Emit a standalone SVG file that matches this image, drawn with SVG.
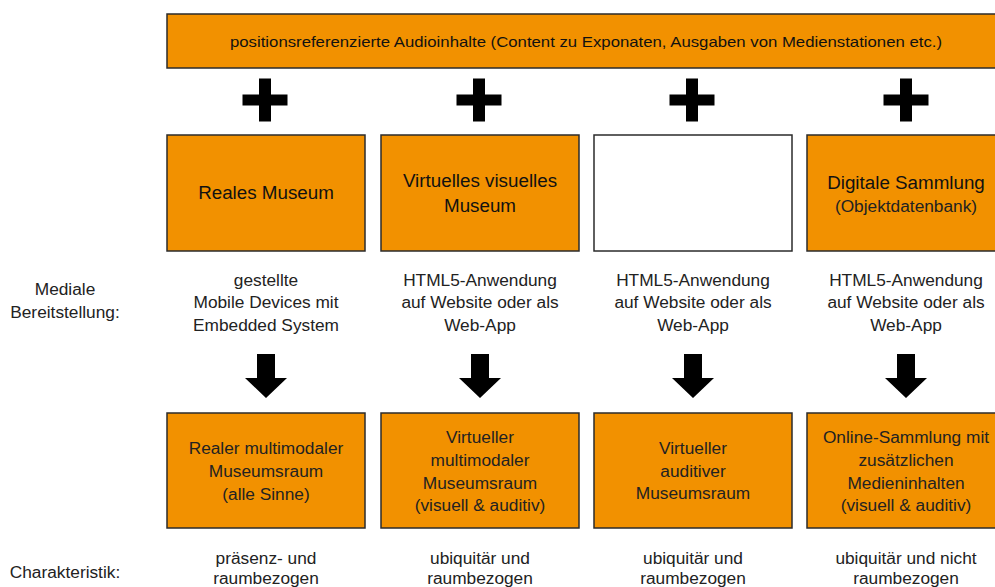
<svg xmlns="http://www.w3.org/2000/svg" width="995" height="587" viewBox="0 0 995 587">
<style>
.box{fill:#F29100;stroke:#2b2b2b;stroke-width:1.5}
.wbox{fill:#fff;stroke:#2b2b2b;stroke-width:1.5}
.h{font-family:"Liberation Sans",Arial,sans-serif;font-size:18.8px;fill:#111;text-anchor:middle}
.t{font-family:"Liberation Sans",Arial,sans-serif;font-size:17.3px;fill:#222;text-anchor:middle}
.top{font-family:"Liberation Sans",Arial,sans-serif;font-size:15px;fill:#111;text-anchor:middle}
.sym{fill:#000}
</style>
<defs>
<path id="plus" d="M-6,-21.5 H6 V-5.5 H22.5 V5.5 H6 V21.5 H-6 V5.5 H-22.5 V-5.5 H-6 Z"/>
<path id="arrow" d="M-9,0 H9 V24 H21 L0,44 L-21,24 H-9 Z"/>
</defs>
<rect width="995" height="587" fill="#fff"/>
<g id="top">
<rect class="box" x="167" y="14" width="840" height="54"/>
<text class="top" x="586" y="47" textLength="712" lengthAdjust="spacingAndGlyphs">positionsreferenzierte Audioinhalte (Content zu Exponaten, Ausgaben von Medienstationen etc.)</text>
</g>
<g id="connectors">
<use href="#plus" class="sym" x="265" y="100"/>
<use href="#plus" class="sym" x="479" y="100"/>
<use href="#plus" class="sym" x="692" y="100"/>
<use href="#plus" class="sym" x="906" y="100"/>
<use href="#arrow" class="sym" x="266" y="354"/>
<use href="#arrow" class="sym" x="480" y="354"/>
<use href="#arrow" class="sym" x="693" y="354"/>
<use href="#arrow" class="sym" x="906" y="354"/>
</g>
<g id="labels">
<text class="t" x="65" y="295">Mediale</text>
<text class="t" x="65" y="318">Bereitstellung:</text>
<text class="t" x="65" y="578">Charakteristik:</text>
</g>
<g id="n1">
<rect class="box" x="167" y="135" width="198" height="116"/>
<text class="h" x="266" y="199">Reales Museum</text>
</g>
<g id="n2">
<rect class="box" x="381" y="135" width="198" height="116"/>
<text class="h" x="480" y="187">Virtuelles visuelles</text>
<text class="h" x="480" y="212">Museum</text>
</g>
<g id="n3">
<rect class="wbox" x="594" y="135" width="198" height="116"/>
</g>
<g id="n4">
<rect class="box" x="807" y="135" width="200" height="116"/>
<text class="h" x="906" y="189">Digitale Sammlung</text>
<text class="t" x="906" y="212">(Objektdatenbank)</text>
</g>
<g id="m1">
<text class="t" x="266" y="286">gestellte</text>
<text class="t" x="266" y="308">Mobile Devices mit</text>
<text class="t" x="266" y="331">Embedded System</text>
</g>
<g id="m2">
<text class="t" x="480" y="286">HTML5-Anwendung</text>
<text class="t" x="480" y="308">auf Website oder als</text>
<text class="t" x="480" y="331">Web-App</text>
</g>
<g id="m3">
<text class="t" x="693" y="286">HTML5-Anwendung</text>
<text class="t" x="693" y="308">auf Website oder als</text>
<text class="t" x="693" y="331">Web-App</text>
</g>
<g id="m4">
<text class="t" x="906" y="286">HTML5-Anwendung</text>
<text class="t" x="906" y="308">auf Website oder als</text>
<text class="t" x="906" y="331">Web-App</text>
</g>
<g id="b1">
<rect class="box" x="167" y="413" width="198" height="115"/>
<text class="t" x="266" y="454">Realer multimodaler</text>
<text class="t" x="266" y="477">Museumsraum</text>
<text class="t" x="266" y="500">(alle Sinne)</text>
</g>
<g id="b2">
<rect class="box" x="381" y="413" width="198" height="115"/>
<text class="t" x="480" y="443">Virtueller</text>
<text class="t" x="480" y="466">multimodaler</text>
<text class="t" x="480" y="489">Museumsraum</text>
<text class="t" x="480" y="511">(visuell &amp; auditiv)</text>
</g>
<g id="b3">
<rect class="box" x="594" y="413" width="198" height="115"/>
<text class="t" x="693" y="454">Virtueller</text>
<text class="t" x="693" y="477">auditiver</text>
<text class="t" x="693" y="499">Museumsraum</text>
</g>
<g id="b4">
<rect class="box" x="807" y="413" width="200" height="115"/>
<text class="t" x="906" y="443">Online-Sammlung mit</text>
<text class="t" x="906" y="466">zusätzlichen</text>
<text class="t" x="906" y="489">Medieninhalten</text>
<text class="t" x="906" y="511">(visuell &amp; auditiv)</text>
</g>
<g id="c1"><text class="t" x="266" y="564">präsenz- und</text><text class="t" x="266" y="584">raumbezogen</text></g>
<g id="c2"><text class="t" x="480" y="564">ubiquitär und</text><text class="t" x="480" y="584">raumbezogen</text></g>
<g id="c3"><text class="t" x="693" y="564">ubiquitär und</text><text class="t" x="693" y="584">raumbezogen</text></g>
<g id="c4"><text class="t" x="906" y="564">ubiquitär und nicht</text><text class="t" x="906" y="584">raumbezogen</text></g>
</svg>
